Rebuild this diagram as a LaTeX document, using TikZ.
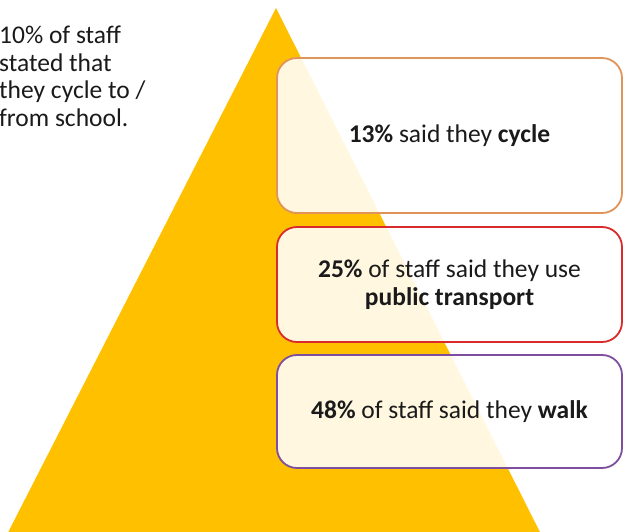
\documentclass[tikz,border=0pt]{standalone}
\usepackage{fontspec}
\setmainfont{Carlito}
\definecolor{tri}{HTML}{FFC000}
\definecolor{txt}{HTML}{1A1A1A}
\definecolor{bOrange}{HTML}{E0945A}
\definecolor{bRed}{HTML}{D92B2B}
\definecolor{bPurple}{HTML}{7F4F9F}
\tikzset{
  bodytext/.style={text=txt, font=\fontsize{25.5}{27.5}\selectfont},
  infobox/.style={bodytext, draw, line width=1.8pt, rounded corners=20pt, fill=white, fill opacity=0.88, text opacity=1,
    minimum width=345pt, align=center, inner sep=0pt},
}
\begin{document}
\begin{tikzpicture}[x=1pt,y=-1pt]
\useasboundingbox (0,0) rectangle (625,532);
\clip (0,0) rectangle (625,532);
\fill[tri] (276,8) -- (552,556) -- (-4,556) -- cycle;
\node[bodytext, anchor=north west, inner sep=0pt, align=left] (note) at (-1,26)
  {10\% of staff\\stated that\\they cycle to /\\from school.};
\node[infobox, draw=bOrange, minimum height=155pt] (cycle) at (449.5,135.5) {\textbf{13\%} said they \textbf{cycle}};
\node[infobox, draw=bRed, minimum height=115pt] (public) at (449.5,284.5) {\textbf{25\%} of staff said they use\\\textbf{public transport}};
\node[infobox, draw=bPurple, minimum height=113pt] (walk) at (449.5,411.5) {\textbf{48\%} of staff said they \textbf{walk}};
\end{tikzpicture}
\end{document}
